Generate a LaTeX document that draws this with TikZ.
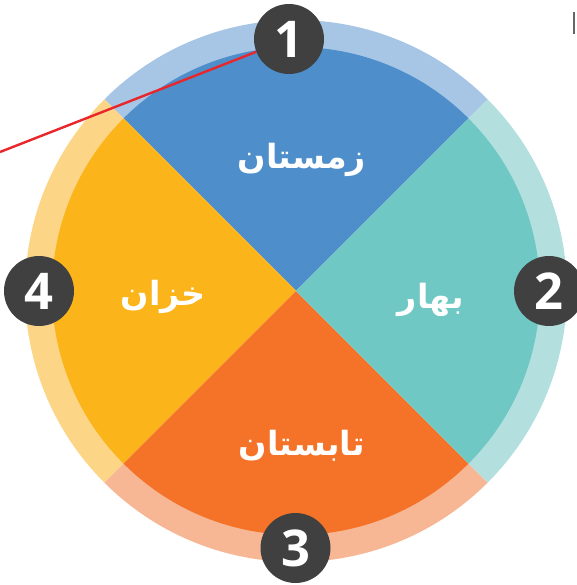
\documentclass[tikz,border=0pt]{standalone}
\usepackage{fontspec}
\usepackage{xcolor}
\usetikzlibrary{positioning, calc}
\TeXXeTstate=1
\newfontfamily\arabicfont[Script=Arabic]{DejaVu Sans}
\newfontfamily\badgefont{Open Sans}
\definecolor{winterdark}{HTML}{4E8FCB}
\definecolor{winterlight}{HTML}{A7C6E6}
\definecolor{springdark}{HTML}{6FC8C3}
\definecolor{springlight}{HTML}{B3E0DF}
\definecolor{summerdark}{HTML}{F47328}
\definecolor{summerlight}{HTML}{F8B794}
\definecolor{autumndark}{HTML}{FBB419}
\definecolor{autumnlight}{HTML}{FCD587}
\definecolor{badgegray}{HTML}{404040}
\definecolor{strayred}{HTML}{E8262B}
\tikzset{
	badge/.style={circle, fill=badgegray, text=white, minimum size=52.5pt, inner sep=0pt, font=\badgefont\bfseries\fontsize{38}{40}\selectfont},
	season/.style={text=white, inner sep=0pt, font=\arabicfont\bfseries\fontsize{25}{30}\selectfont},
	redline/.style={draw=strayred, line width=1.8pt},
	tick/.style={draw=badgegray!80, line width=1.1pt}
}

\begin{document}
\begin{tikzpicture}[x=0.75pt, y=0.75pt]
    \useasboundingbox (0,0) rectangle (576,-585);
    \coordinate (c) at (296,-291);
    % Ring and sectors
    \foreach \a/\light/\dark in {45/winterlight/winterdark, 135/autumnlight/autumndark, 225/summerlight/summerdark, 315/springlight/springdark}{
        \fill[\light] (c) -- ++(\a:271) arc[start angle=\a, delta angle=90, radius=271] -- cycle;
        \fill[\dark] (c) -- ++(\a:244) arc[start angle=\a, delta angle=90, radius=244] -- cycle;
    }
    % Labels
    \node[season] (winter) at (302,-160) {\beginR زمستان\endR};
    \node[season] (spring) at (431,-300) {\beginR بهار\endR};
    \node[season] (summer) at (302,-446) {\beginR تابستان\endR};
    \node[season] (autumn) at (163,-297) {\beginR خزان\endR};
    % Badges
    \node[badge] (one) at (289,-39) {1};
    \node[badge] (two) at (549,-291) {2};
    \node[badge] (three) at (295.5,-548) {3};
    \node[badge] (four) at (39,-291) {4};
    % Stray marks
    \coordinate (redstart) at (0,-152);
    \draw[redline] (redstart) -- (one);
    \coordinate (ticktop) at (574,-12);
    \coordinate (tickbottom) at (574,-34);
    \draw[tick] (ticktop) -- (tickbottom);
\end{tikzpicture}
\end{document}
